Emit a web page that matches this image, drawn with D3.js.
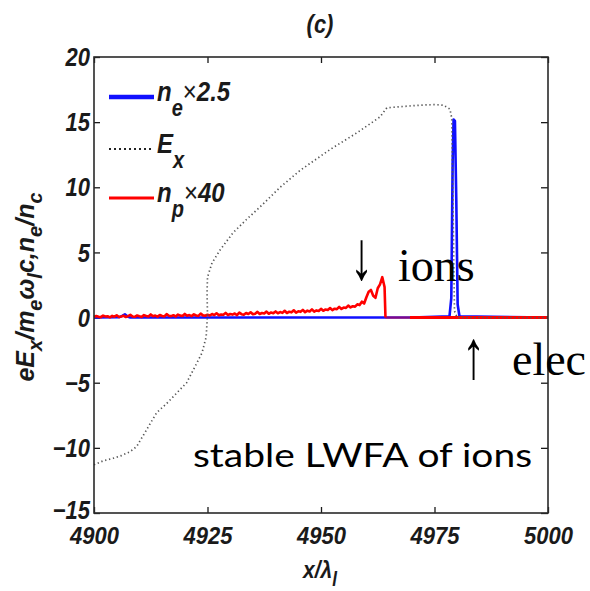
<!DOCTYPE html>
<html><head><meta charset="utf-8">
<script src="https://cdn.jsdelivr.net/npm/d3@7"></script>
<style>body{margin:0;background:#fff} svg{display:block}</style>
</head><body><svg id="c" width="590" height="591"></svg>
<script>
// ---------- data ----------
const xTicks = [4900, 4925, 4950, 4975, 5000];
const yTicks = [-15, -10, -5, 0, 5, 10, 15, 20];

// E_x (dotted)
const exX = [4900,4902,4904.2,4906,4907.9,4909.4,4911.6,4913.8,4916,4918.2,4920.4,4922.2,4923.8,4924.7,4925,4924.9,4925,4926,4927.8,4930.6,4933.5,4936.6,4941,4945.4,4952,4958,4963,4964.5,4968,4971.8,4975,4977,4978.4,4978.8,4979.1,4979.4,4980,5000];
const exY = [-11.3,-11.0,-10.8,-10.6,-10.3,-9.9,-8.6,-7.3,-6.6,-5.8,-5.0,-3.8,-2.7,-1.5,0.2,1.9,3.1,4.2,5.2,6.5,7.5,8.5,10.0,11.3,12.9,14.2,15.4,16.1,16.2,16.3,16.35,16.3,16.0,15.3,8,0.5,0,0];

// n_e x 2.5 (blue)
const neX = [4900,4905.5,4906.3,4906.8,4907.4,4908,4964,4970,4978.3,4978.7,4979.0,4979.2,4979.5,4979.8,4980.1,4980.5,5000];
const neY = [0,0.02,0.15,0.25,0.08,0,0,0,0.1,1.5,12,15.2,15.1,9,1.0,0.1,0];

// n_p x 40 (red), sampled from 4900 every 0.5
const npStart = 4900, npStep = 0.5;
const npY = [
 0.04,0.12,0.06,0.03,0.15,0.08,0.10,0.02,0.13,0.07,
 0.18,0.05,0.09,0.14,0.04,0.11,0.21,0.08,0.06,0.16,
 0.10,0.05,0.19,0.12,0.08,0.24,0.10,0.15,0.07,0.20,
 0.12,0.09,0.26,0.14,0.11,0.18,0.08,0.23,0.15,0.12,
 0.28,0.14,0.19,0.11,0.25,0.16,0.13,0.30,0.17,0.14,0.22,
 0.16,0.27,0.19,0.33,0.18,0.24,0.21,0.36,0.20,0.27,
 0.23,0.31,0.19,0.38,0.26,0.22,0.35,0.28,0.41,0.25,
 0.30,0.44,0.27,0.35,0.31,0.46,0.29,0.39,0.34,0.47,
 0.33,0.42,0.36,0.52,0.35,0.45,0.40,0.56,0.38,0.48,
 0.44,0.59,0.41,0.53,0.47,0.63,0.45,0.55,0.51,0.67,
 0.52,0.62,0.58,0.73,0.57,0.68,0.65,0.82,0.66,0.77,
 0.74,0.92,0.78,0.87,0.84,1.02,
 0.96,1.22,1.08,1.56,1.98,2.12,1.68,1.52,2.25,2.55,3.10,2.35
];
const npDropX = [4964.2], npDropY = [0];
const npFaintX = [4964.2, 4969.6], npFaintY = [0, 0];
const npTailX = [4969.6, 5000], npTailY = [0, 0];

const legendLabels = [
  {main:"n", sub:"e", rest:"×2.5"},
  {main:"E", sub:"x", rest:""},
  {main:"n", sub:"p", rest:"×40"}
];

// ---------- chart ----------
const svg = d3.select("#c");
const FONT = "'Liberation Sans', Arial, sans-serif";
const SERIF = "'Liberation Serif', 'Times New Roman', serif";
const L = 94, R = 548, T = 57, B = 513;
const x = d3.scaleLinear().domain([4900, 5000]).range([L, R]);
const y = d3.scaleLinear().domain([-15, 20]).range([B, T]);
const INK = "#1a1a1a";
const SY = 1.15;

function styleAxis(g) {
  g.attr("font-size", 22).attr("font-family", FONT).attr("color", INK);
  g.select(".domain").remove();
  g.selectAll(".tick line").attr("stroke-width", 1.3);
  g.selectAll(".tick text").attr("font-weight", "bold").attr("font-style", "italic")
    .attr("font-family", FONT).attr("font-size", 22);
}

// axes
const gB = svg.append("g").attr("transform", `translate(0,${B})`)
  .call(d3.axisBottom(x).tickValues(xTicks).tickSizeInner(-6).tickSizeOuter(0).tickPadding(13).tickFormat(d3.format("d")));
styleAxis(gB);
gB.selectAll("text").attr("transform", `scale(1,1.1)`);

const gL = svg.append("g").attr("transform", `translate(${L},0)`)
  .call(d3.axisLeft(y).tickValues(yTicks).tickSizeInner(-6).tickSizeOuter(0).tickPadding(4));
styleAxis(gL);
gL.selectAll("text").attr("transform", `scale(1,${SY})`).attr("dy", "0.34em");
gL.selectAll(".tick").filter(d => d === -15).select("text").attr("dy", "0.2em");

const gT = svg.append("g").attr("transform", `translate(0,${T})`)
  .call(d3.axisTop(x).tickValues(xTicks).tickSizeInner(-6).tickSizeOuter(0).tickFormat(""));
styleAxis(gT);
const gR = svg.append("g").attr("transform", `translate(${R},0)`)
  .call(d3.axisRight(y).tickValues(yTicks).tickSizeInner(-7).tickSizeOuter(0).tickFormat(""));
styleAxis(gR);

// data lines
const line = d3.line().x(d => x(d[0])).y(d => y(d[1]));
const zip = (a, b) => a.map((v, i) => [v, b[i]]);

svg.append("path").datum(zip(neX, neY)).attr("d", line).attr("fill", "none")
  .attr("stroke", "#1010ff").attr("stroke-width", 2.6).attr("stroke-linejoin", "round");

const npData = npY.map((v, i) => [npStart + i * npStep, v]).concat(zip(npDropX, npDropY));
svg.append("path").datum(npData).attr("d", line).attr("fill", "none")
  .attr("stroke", "#ff0000").attr("stroke-width", 2.6).attr("stroke-linejoin", "round");
svg.append("path").datum(zip(npFaintX, npFaintY)).attr("d", line).attr("fill", "none")
  .attr("stroke", "#ff0000").attr("stroke-opacity", 0.45).attr("stroke-width", 2.6);
svg.append("path").datum(zip(npTailX, npTailY)).attr("d", line).attr("fill", "none")
  .attr("stroke", "#ff0000").attr("stroke-width", 3);

svg.append("path").datum(zip(exX, exY)).attr("d", line).attr("fill", "none")
  .attr("stroke", "#555").attr("stroke-width", 1.7).attr("stroke-dasharray", "1.3,2.7");

// frame
svg.append("rect").attr("x", L).attr("y", T).attr("width", R - L).attr("height", B - T)
  .attr("fill", "none").attr("stroke", "#2a2a2a").attr("stroke-width", 1.6);

// legend
const legY = [97, 149, 198];
const legStyle = [
  {stroke: "#1010ff", w: 4.5, dash: null},
  {stroke: "#222", w: 2, dash: "2,3"},
  {stroke: "#ff0000", w: 3, dash: null}
];
legendLabels.forEach((lab, i) => {
  svg.append("line").attr("x1", 109).attr("x2", 154).attr("y1", legY[i]).attr("y2", legY[i])
    .attr("stroke", legStyle[i].stroke).attr("stroke-width", legStyle[i].w)
    .attr("stroke-dasharray", legStyle[i].dash);
  const g = svg.append("g").attr("transform", `translate(157,${legY[i] + 4})`);
  const t = g.append("text").attr("transform", `scale(1,${SY})`)
    .attr("font-family", FONT).attr("font-weight", "bold").attr("font-style", "italic")
    .attr("font-size", 24).attr("fill", INK);
  t.append("tspan").text(lab.main);
  t.append("tspan").attr("dy", 13).attr("font-size", 20).text(lab.sub);
  if (lab.rest) {
    t.append("tspan").attr("dy", -13).attr("font-style", "normal").attr("font-weight", "normal").attr("font-size", 24).text("×");
    t.append("tspan").text(lab.rest.slice(1));
  }
});

// title
svg.append("g").attr("transform", "translate(320,33)").append("text")
  .attr("transform", `scale(1,${SY})`).attr("text-anchor", "middle")
  .attr("font-family", FONT).attr("font-weight", "bold").attr("font-style", "italic")
  .attr("font-size", 22).attr("fill", INK).text("(c)");

// x label
{
  const t = svg.append("g").attr("transform", "translate(303,578)").append("text")
    .attr("transform", `scale(1,${SY})`)
    .attr("font-family", FONT).attr("font-weight", "bold").attr("font-style", "italic")
    .attr("font-size", 21).attr("fill", INK);
  t.append("tspan").text("x/λ");
  t.append("tspan").attr("dy", 7).attr("font-size", 17).text("l");
}

// y label
{
  const t = svg.append("g").attr("transform", "translate(34,287) rotate(-90)").append("text")
    .attr("text-anchor", "middle")
    .attr("font-family", FONT).attr("font-weight", "bold").attr("font-style", "italic")
    .attr("font-size", 25).attr("fill", INK);
  const parts = [["eE",0],["x",1],["/m",0],["e",1],["ω",0],["l",1],["c,n",0],["e",1],["/n",0],["c",1]];
  let cur = 0;
  parts.forEach(([s, sub]) => {
    const want = sub ? 8 : 0;
    const ts = t.append("tspan").attr("dy", want - cur).text(s);
    if (sub) ts.attr("font-size", 20);
    cur = want;
  });
}

// annotations
function arrow(txt, px, py) {
  svg.append("g").attr("transform", `translate(${px},${py})`).append("text")
    .attr("transform", "scale(1,1.5)").attr("font-family", SERIF).attr("font-size", 46)
    .attr("fill", "#000").text(txt);
}
arrow("↓", 350, 279);
arrow("↑", 462, 378);
svg.append("text").attr("x", 398).attr("y", 281).attr("font-family", SERIF).attr("font-size", 46).attr("fill", "#000").text("ions");
svg.append("text").attr("x", 512).attr("y", 375).attr("font-family", SERIF).attr("font-size", 46).attr("fill", "#000").text("elec");
svg.append("text").attr("x", 193).attr("y", 467).attr("font-family", "Lato, 'Open Sans', sans-serif")
  .attr("font-size", 33).attr("fill", "#000").attr("textLength", 339).attr("lengthAdjust", "spacingAndGlyphs")
  .text("stable LWFA of ions");
</script></body></html>
